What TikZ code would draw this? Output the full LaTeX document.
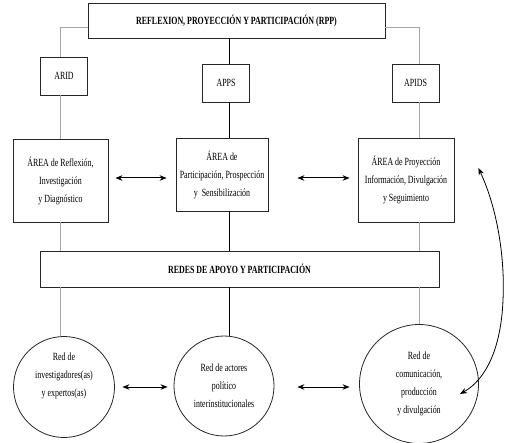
\documentclass[tikz,border=0pt]{standalone}
\usepackage{fontspec}
\setmainfont{Liberation Serif}[FakeStretch=0.72]
\usetikzlibrary{arrows.meta,positioning,calc}
\tikzset{
  box/.style={rectangle, draw=black!85, line width=0.8pt, fill=white, align=center,
              inner sep=1pt, font=\fontsize{11}{18}\selectfont},
  titlebox/.style={box, font=\fontsize{11}{12}\selectfont\bfseries},
  tagbox/.style={box, minimum width=47pt, minimum height=38pt},
  areabox/.style={box},
  netnode/.style={circle, draw=black!85, line width=0.8pt, align=center, inner sep=0pt,
                  font=\fontsize{11}{18}\selectfont},
  link/.style={draw=gray!70, line width=0.7pt},
  linkdark/.style={link, draw=black},
  biarrow/.style={{Stealth[length=7pt,width=5.5pt]}-{Stealth[length=7pt,width=5.5pt]}, draw=black, line width=1pt}
}

\begin{document}
\begin{tikzpicture}[x=1pt, y=-1pt]
\useasboundingbox (0,0) rectangle (510,443);

% columns and rows
\coordinate (colL) at (60,0);
\coordinate (colM) at (229,0);
\coordinate (colR) at (419,0);
\coordinate (rowtop) at (0,27);
\coordinate (rowarea) at (0,178);
\coordinate (rownet) at (0,387);

% top level
\node[titlebox, minimum width=297pt, minimum height=35pt] (rpp) at (236.5,20.5) {REFLEXION, PROYECCIÓN Y PARTICIPACIÓN (RPP)};
\node[tagbox] (arid) at (64,76) {ARID};
\node[tagbox] (apps) at (226,83) {APPS};
\node[tagbox] (apids) at (415.5,83) {APIDS};

% areas
\node[areabox, minimum width=95pt, minimum height=83pt] (areaL) at (60.5,180.5) {ÁREA de Reflexión,\\ Investigación\\ y Diagnóstico};
\node[areabox, minimum width=92pt, minimum height=73pt] (areaM) at (222,174.5) {ÁREA de\\ Participación, Prospección\\ y~~Sensibilización};
\node[areabox, minimum width=96pt, minimum height=84pt] (areaR) at (406,180) {ÁREA de Proyección\\ Información, Divulgación\\ y Seguimiento};

\node[titlebox, minimum width=399pt, minimum height=36pt] (redes) at (239.5,269) {REDES DE APOYO Y PARTICIPACIÓN};

% networks
\node[netnode, minimum size=101pt] (netL) at (64,387) {Red de\\ investigadores(as)\\ y expertos(as)\\[6pt]};
\node[netnode, minimum size=100pt] (netM) at (224,386) {Red de actores\\ político\\ interinstitucionales};
\node[netnode, minimum size=119pt] (netR) at (419,384) {Red de\\ comunicación,\\ producción\\ y divulgación};

% tree lines
\draw[link] (rpp.west |- rowtop) -| (arid.north -| colL);
\draw[link] (rpp.east |- rowtop) -| (apids.north -| colR);
\draw[linkdark] (rpp.south -| colM) -- (apps.north -| colM);
\draw[link] (arid.south -| colL) -- (areaL.north -| colL);
\draw[linkdark] (apps.south -| colM) -- (areaM.north -| colM);
\draw[link] (apids.south -| colR) -- (areaR.north -| colR);
\draw[link] (areaL.south -| colL) -- (redes.north -| colL);
\draw[linkdark] (areaM.south -| colM) -- (redes.north -| colM);
\draw[link] (areaR.south -| colR) -- (redes.north -| colR);
\draw[link] (redes.south -| colL) -- (netL.north -| colL);
\draw[linkdark] (redes.south -| colM) -- (netM.north -| colM);
\draw[link] (redes.south -| colR) -- (netR.north -| colR);

% two-way arrows
\draw[biarrow, shorten <=7pt, shorten >=9pt] (areaL.east |- rowarea) -- (areaM.west |- rowarea);
\draw[biarrow, shorten <=29pt, shorten >=8pt] (areaM.east |- rowarea) -- (areaR.west |- rowarea);
\draw[biarrow, shorten <=7.5pt, shorten >=6pt] (netL.east |- rownet) -- (netM.west |- rownet);
\draw[biarrow, shorten <=23pt, shorten >=9.5pt] (netM.east |- rownet) -- (netR.west |- rownet);
\draw[biarrow, line width=0.8pt] ([shift={(24,-12)}]areaR.east) .. controls (498,210) and (505,260) .. (503,300)
  .. controls (501,350) and (485,380) .. ([shift={(41,10)}]netR.center);
\end{tikzpicture}
\end{document}
